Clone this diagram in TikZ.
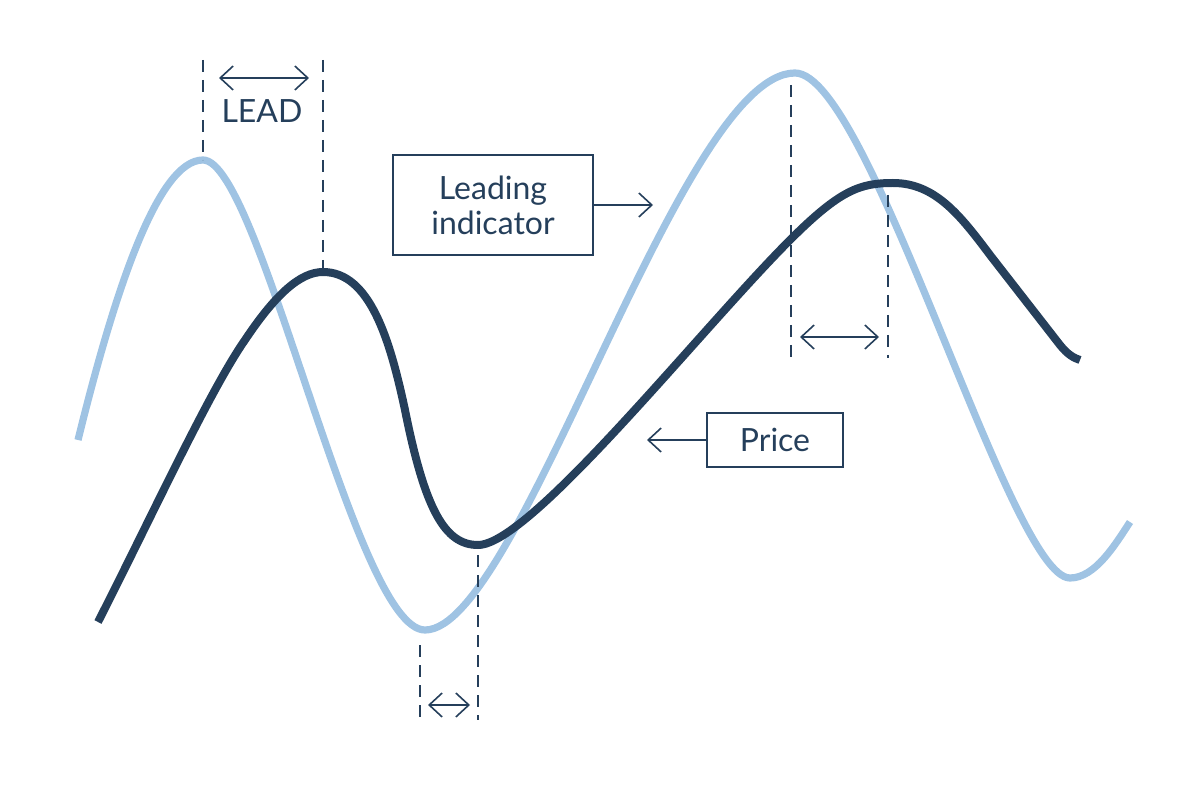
\documentclass[tikz,border=0pt]{standalone}
\usepackage{fontspec}
\setmainfont{Lato}
\usetikzlibrary{positioning, arrows.meta}

\definecolor{navy}{HTML}{253F5B}
\definecolor{skyblue}{HTML}{9FC3E3}

\begin{document}
\begin{tikzpicture}[
    x=0.5pt, y=-0.5pt,
    Box/.style={rectangle, draw=navy, line width=1pt, text=navy, font=\fontsize{16}{17.5}\selectfont, align=center, inner sep=0pt},
    Guide/.style={navy, line width=0.9pt, dash pattern=on 6pt off 4pt},
    Span/.style={navy, line width=0.8pt, {Straight Barb[length=6.5pt,width=12pt]}-{Straight Barb[length=6.5pt,width=12pt]}},
    Pointer/.style={navy, line width=0.8pt, -{Straight Barb[length=6.5pt,width=12pt]}},
]
    \useasboundingbox (0,0) rectangle (1200,786);

    % Curves
    \draw[skyblue, line width=3.6pt] (78,440) .. controls (115,290) and (158,160) .. (203,160)
        .. controls (260,160) and (355,630) .. (425,630)
        .. controls (520,630) and (680,73) .. (795,73)
        .. controls (870,73) and (1010,578) .. (1070,578)
        .. controls (1095,578) and (1115,545) .. (1130,522);
    \draw[navy, line width=4pt] (98,622) .. controls (150,520) and (210,390) .. (245,340)
        .. controls (275,295) and (300,272) .. (323,272)
        .. controls (370,272) and (390,340) .. (405,410)
        .. controls (425,510) and (445,545) .. (478,545)
        .. controls (530,545) and (700,330) .. (790,240)
        .. controls (840,190) and (860,183) .. (893,183)
        .. controls (935,183) and (960,215) .. (990,255)
        -- (1060,345) .. controls (1068,355) and (1074,358) .. (1080,360);

    % Guides
    \draw[Guide] (203,60) -- (203,160);
    \draw[Guide] (323,60) -- (323,270);
    \draw[Guide] (420,645) -- (420,720);
    \draw[Guide] (478,555) -- (478,720);
    \draw[Guide] (791,85) -- (791,358);
    \draw[Guide] (888,195) -- (888,358);

    % Spans
    \coordinate (LeadL) at (219,78);
    \coordinate (LeadR) at (309,78);
    \coordinate (LowL) at (428,705);
    \coordinate (LowR) at (470,705);
    \coordinate (HighL) at (800,337);
    \coordinate (HighR) at (879,337);
    \draw[Span] (LeadL) -- (LeadR);
    \draw[Span] (LowL) -- (LowR);
    \draw[Span] (HighL) -- (HighR);
    \node[text=navy, font=\fontsize{16}{17.5}\selectfont] (Lead) at (262,111) {LEAD};

    % Labels
    \node[Box, minimum width=100pt, minimum height=50pt] (Ind) at (493,205) {Leading\\indicator};
    \node[Box, minimum width=68pt, minimum height=27pt] (Pri) at (775,440) {Price};
    \coordinate (IndTip) at (653,205);
    \coordinate (PriTip) at (647,440);
    \draw[Pointer] (Ind.east) -- (IndTip);
    \draw[Pointer] (Pri.west) -- (PriTip);
\end{tikzpicture}
\end{document}
